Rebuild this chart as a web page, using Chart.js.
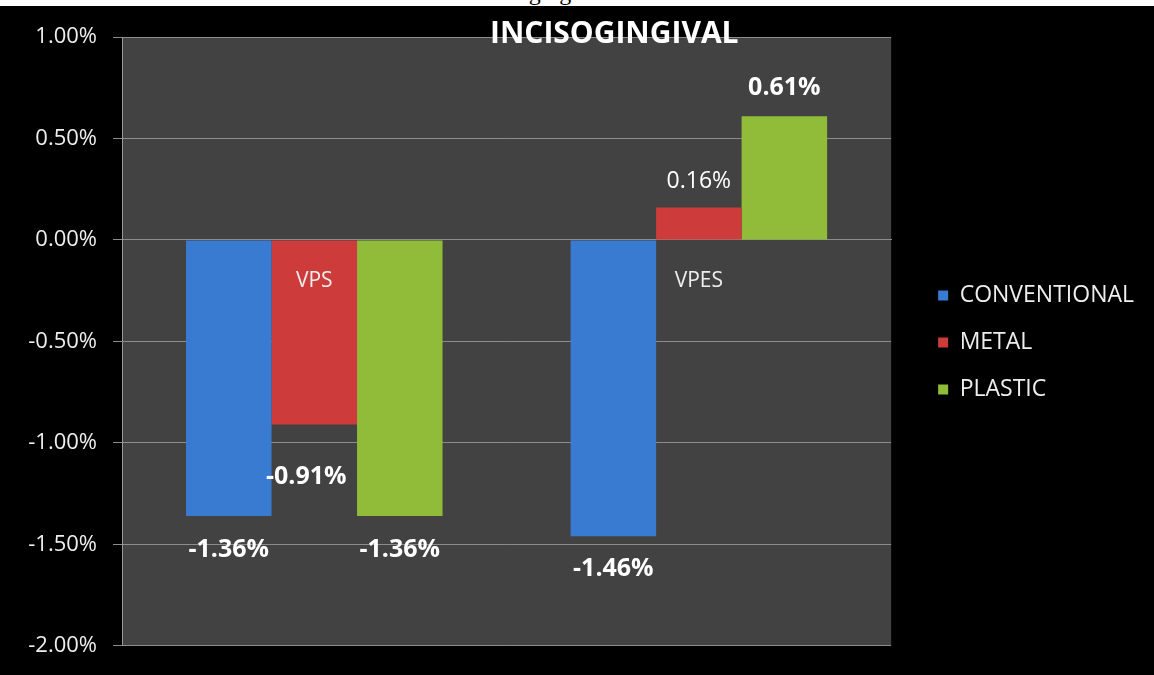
<!DOCTYPE html>
<html>
<head>
<meta charset="utf-8">
<script src="https://cdn.jsdelivr.net/npm/chart.js@4.4.1/dist/chart.umd.min.js"></script>
<style>
  html, body { margin: 0; padding: 0; background: #000; width: 1154px; height: 675px; overflow: hidden; }
  #band { position: absolute; left: 0; top: 0; width: 1154px; height: 6px; background: #fff; overflow: hidden; z-index: 2; }
  #band span { position: absolute; left: 470px; top: -21px; font-family: "Liberation Serif", "Times New Roman", serif; font-size: 24px; color: #000; white-space: nowrap; }
  #c { position: absolute; left: 0; top: 0; }
</style>
</head>
<body>
<div id="band"><span>Incisogingival dimension</span></div>
<canvas id="c" width="1154" height="675"></canvas>
<script>
// ---- data ----
const categories = ['VPS', 'VPES'];
const seriesNames = ['CONVENTIONAL', 'METAL', 'PLASTIC'];
const conventional = [-1.36, -1.46];
const metal = [-0.91, 0.16];
const plastic = [-1.36, 0.61];
const yMin = -2.0, yMax = 1.0, yStep = 0.5;
const chartTitle = 'INCISOGINGIVAL';

// ---- styles ----
const colors = ['#3a7bd2', '#cd3c3b', '#91bc3a'];
const FONT = '"Open Sans", "Liberation Sans", sans-serif';
// per-dataset, per-category label offsets (dx, dy from bar end) and bold flag
const labelStyle = [
  [{dx: 0, dy: 34, bold: true}, {dx: 0, dy: 33, bold: true}],
  [{dx: -8, dy: 52, bold: true}, {dx: 0, dy: -26, bold: false}],
  [{dx: 0, dy: 34, bold: true}, {dx: 0, dy: -28, bold: true}]
];

const plotBg = {
  id: 'plotBg',
  beforeDraw(chart) {
    const {ctx, chartArea: a} = chart;
    ctx.save();
    ctx.fillStyle = '#424242';
    ctx.fillRect(a.left, a.top, a.right - a.left, a.bottom - a.top);
    ctx.restore();
  }
};

const valueLabels = {
  id: 'valueLabels',
  afterDatasetsDraw(chart) {
    const ctx = chart.ctx;
    ctx.save();
    ctx.fillStyle = '#ffffff';
    ctx.textAlign = 'center';
    ctx.textBaseline = 'middle';
    chart.data.datasets.forEach((ds, di) => {
      const meta = chart.getDatasetMeta(di);
      meta.data.forEach((bar, i) => {
        const st = labelStyle[di][i];
        ctx.font = (st.bold ? 'bold 25px ' : '23px ') + FONT;
        ctx.fillText(ds.data[i].toFixed(2) + '%', bar.x + st.dx, bar.y + st.dy);
      });
    });
    ctx.restore();
  }
};

const titleText = {
  id: 'titleText',
  afterDraw(chart) {
    const ctx = chart.ctx;
    const a = chart.chartArea;
    ctx.save();
    ctx.fillStyle = '#ffffff';
    ctx.font = 'bold 30px ' + FONT;
    ctx.textAlign = 'center';
    ctx.textBaseline = 'middle';
    ctx.fillText(chartTitle, a.left + (a.right - a.left) * 0.64, 34);
    ctx.restore();
  }
};

new Chart(document.getElementById('c'), {
  type: 'bar',
  data: {
    labels: categories,
    datasets: [
      {label: seriesNames[0], data: conventional, backgroundColor: colors[0]},
      {label: seriesNames[1], data: metal, backgroundColor: colors[1]},
      {label: seriesNames[2], data: plastic, backgroundColor: colors[2]}
    ]
  },
  options: {
    responsive: false,
    animation: false,
    categoryPercentage: 0.667,
    barPercentage: 1.0,
    layout: { padding: { top: 37, bottom: 27, left: 0, right: 10 } },
    plugins: {
      legend: {
        position: 'right',
        maxWidth: 300,
        labels: {
          color: '#eeeeee',
          font: { family: FONT, size: 23 },
          boxWidth: 10,
          boxHeight: 10,
          padding: 24
        }
      },
      tooltip: { enabled: false }
    },
    scales: {
      x: {
        position: { y: 0 },
        grid: { display: false, drawTicks: false },
        border: { display: true, color: '#8c8c8c' },
        ticks: { z: 1, color: '#eeeeee', font: { family: FONT, size: 21 }, padding: 28 }
      },
      y: {
        min: yMin, max: yMax,
        afterFit(s) { s.width = 122; },
        ticks: {
          stepSize: yStep,
          color: '#eeeeee',
          font: { family: FONT, size: 22 },
          padding: 16,
          callback: v => v.toFixed(2) + '%'
        },
        grid: { color: '#8c8c8c', tickColor: '#8c8c8c', tickLength: 9 },
        border: { display: true, color: '#9a9a9a' }
      },
      y2: {
        position: 'right',
        display: true,
        grid: { display: false, drawTicks: false },
        border: { display: false },
        ticks: { display: false },
        afterFit(s) { s.width = 23; }
      }
    }
  },
  plugins: [plotBg, valueLabels, titleText]
});
</script>
</body>
</html>
